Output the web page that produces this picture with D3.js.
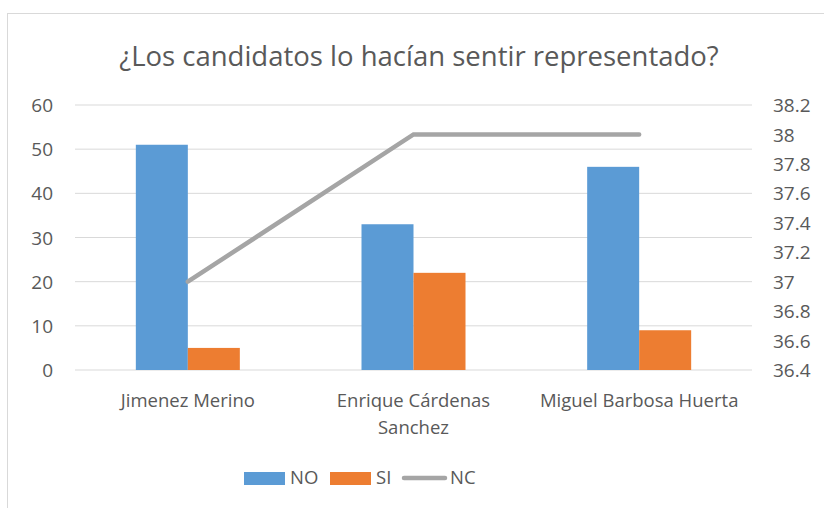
<!DOCTYPE html>
<html>
<head>
<meta charset="utf-8">
<script src="https://cdn.jsdelivr.net/npm/d3@7"></script>
<style>
  body { margin: 0; background: #fff; }
  text { font-family: "Open Sans", "Noto Sans", sans-serif; fill: #595959; }
</style>
</head>
<body>
<svg width="824" height="508"></svg>
<script>
// data
const candidates = ["Jimenez Merino", "Enrique Cárdenas Sanchez", "Miguel Barbosa Huerta"];
const noValues = [51, 33, 46];
const siValues = [5, 22, 9];
const ncValues = [37, 38, 38];
const leftTicks = [0, 10, 20, 30, 40, 50, 60];
const rightTicks = [36.4, 36.6, 36.8, 37, 37.2, 37.4, 37.6, 37.8, 38, 38.2];

const svg = d3.select("svg");
const margin = { top: 105, right: 72, bottom: 138, left: 75 };
const width = 824, height = 508;

// chart frame
svg.append("rect")
  .attr("x", 7.5).attr("y", 13.5)
  .attr("width", 830).attr("height", 510)
  .attr("fill", "none").attr("stroke", "#d9d9d9");

svg.append("text")
  .attr("x", 419).attr("y", 66)
  .attr("text-anchor", "middle")
  .style("font-size", "27.5px")
  .text("¿Los candidatos lo hacían sentir representado?");

const x = d3.scaleBand()
  .domain(candidates)
  .range([margin.left, width - margin.right]);

const y = d3.scaleLinear().domain([0, 60]).range([height - margin.bottom, margin.top]);
const y2 = d3.scaleLinear().domain([36.4, 38.2]).range([height - margin.bottom, margin.top]);

// gridlines
svg.append("g")
  .selectAll("line")
  .data(leftTicks)
  .join("line")
  .attr("x1", margin.left).attr("x2", width - margin.right)
  .attr("y1", d => y(d)).attr("y2", d => y(d))
  .attr("stroke", "#d9d9d9").attr("stroke-width", 1);

// left axis
const leftAxis = svg.append("g")
  .attr("transform", `translate(${margin.left - 22},0)`)
  .call(d3.axisLeft(y).tickValues(leftTicks).tickSize(0).tickPadding(0));
leftAxis.select(".domain").remove();
leftAxis.selectAll("text").style("font-size", "19px").attr("dy", "0.35em").style("fill", "#595959");

// right axis
const rightAxis = svg.append("g")
  .attr("transform", `translate(${width - margin.right + 21},0)`)
  .call(d3.axisRight(y2).tickValues(rightTicks).tickSize(0).tickPadding(0)
    .tickFormat(d3.format("~g")));
rightAxis.select(".domain").remove();
rightAxis.selectAll("text").style("font-size", "19px").attr("dy", "0.35em").style("fill", "#595959");

// bars
const barW = 52;
const series = [
  { name: "NO", values: noValues, color: "#5b9bd5", offset: -barW },
  { name: "SI", values: siValues, color: "#ed7d31", offset: 0 }
];
series.forEach(s => {
  svg.append("g")
    .selectAll("rect")
    .data(candidates)
    .join("rect")
    .attr("x", d => x(d) + x.bandwidth() / 2 + s.offset)
    .attr("y", (d, i) => y(s.values[i]))
    .attr("width", barW)
    .attr("height", (d, i) => y(0) - y(s.values[i]))
    .attr("fill", s.color);
});

// NC line
const line = d3.line()
  .x((d, i) => x(candidates[i]) + x.bandwidth() / 2)
  .y(d => y2(d));
svg.append("path")
  .datum(ncValues)
  .attr("d", line)
  .attr("fill", "none")
  .attr("stroke", "#a5a5a5")
  .attr("stroke-width", 4.5)
  .attr("stroke-linecap", "round");

// category labels, wrapped
const catLines = {
  "Jimenez Merino": ["Jimenez Merino"],
  "Enrique Cárdenas Sanchez": ["Enrique Cárdenas", "Sanchez"],
  "Miguel Barbosa Huerta": ["Miguel Barbosa Huerta"]
};
candidates.forEach(c => {
  const t = svg.append("text")
    .attr("x", x(c) + x.bandwidth() / 2)
    .attr("y", 407)
    .attr("text-anchor", "middle")
    .style("font-size", "18.5px");
  catLines[c].forEach((ln, i) => {
    t.append("tspan")
      .attr("x", x(c) + x.bandwidth() / 2)
      .attr("dy", i === 0 ? 0 : 27)
      .text(ln);
  });
});

// legend
const legend = svg.append("g").attr("transform", "translate(244,478)");
const legendItems = [
  { name: "NO", color: "#5b9bd5", type: "rect", x: 0 },
  { name: "SI", color: "#ed7d31", type: "rect", x: 86 },
  { name: "NC", color: "#a5a5a5", type: "line", x: 160 }
];
legendItems.forEach(it => {
  if (it.type === "rect") {
    legend.append("rect")
      .attr("x", it.x).attr("y", -6)
      .attr("width", 41).attr("height", 13)
      .attr("fill", it.color);
  } else {
    legend.append("line")
      .attr("x1", it.x).attr("x2", it.x + 41)
      .attr("y1", 0).attr("y2", 0)
      .attr("stroke", it.color).attr("stroke-width", 4.5)
      .attr("stroke-linecap", "round");
  }
  legend.append("text")
    .attr("x", it.x + 46)
    .attr("y", 0)
    .attr("dy", "0.35em")
    .style("font-size", "18.5px")
    .text(it.name);
});
</script>
</body>
</html>
